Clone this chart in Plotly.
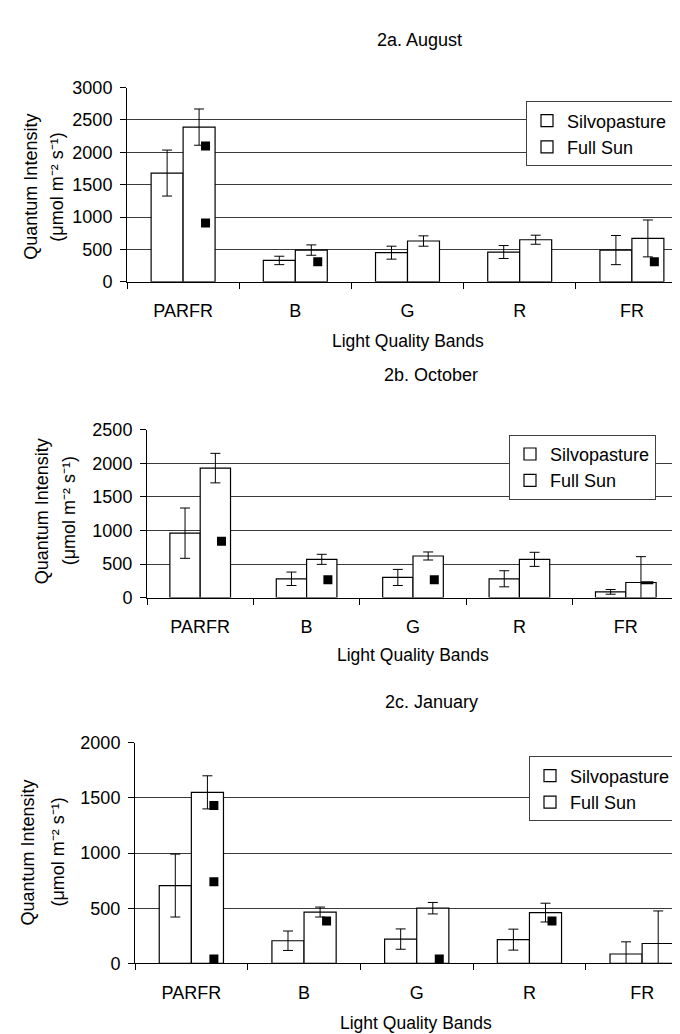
import numpy as np
import plotly.graph_objects as go

# ---------------- data ----------------
categories = ["PARFR", "B", "G", "R", "FR"]

# 2a. August
a_silvo = [1680, 330, 450, 460, 490]
a_silvo_err = [355, 65, 100, 100, 225]
a_full = [2390, 490, 630, 650, 670]
a_full_err = [280, 80, 80, 70, 285]
a_mark_cat = ["PARFR", "PARFR", "B", "FR"]
a_mark_val = [2100, 910, 310, 310]

# 2b. October
b_silvo = [960, 280, 300, 280, 85]
b_silvo_err = [375, 100, 120, 120, 35]
b_full = [1930, 570, 620, 570, 225]
b_full_err = [220, 75, 60, 105, 385]
b_mark_cat = ["PARFR", "B", "G"]
b_mark_val = [840, 265, 265]
b_dash_cat = ["FR"]
b_dash_val = [220]

# 2c. January
c_silvo = [705, 205, 220, 215, 85]
c_silvo_err = [285, 88, 92, 95, 110]
c_full = [1550, 465, 500, 460, 180]
c_full_err = [150, 45, 52, 85, 295]
c_mark_cat = ["PARFR", "PARFR", "PARFR", "B", "G", "R"]
c_mark_val = [1430, 740, 40, 385, 40, 385]

titles = ["2a. August", "2b. October", "2c. January"]
x_title = "Light Quality Bands"
y_title1 = "Quantum Intensity"
y_title2 = "(μmol m⁻² s⁻¹)"
y_max = [3000, 2500, 2000]

# ---------------- layout helpers ----------------
W, H = 680, 1034
FONT = "Liberation Sans, Arial, sans-serif"
FS = 18
BAR_W = 0.285
MARK_SHIFT = 0.2

def px(x):
    return x / W

def py(y):
    return 1 - y / H

idx = np.arange(len(categories))
cat_index = {c: i for i, c in enumerate(categories)}

# panel geometry in pixels
panels = [
    dict(x0=119, x1=680, yt=71, yb=269, xend=4.5),
    dict(x0=139, x1=671, yt=420, yb=591, xend=4.5),
    dict(x0=127, x1=680, yt=739, yb=964, xend=4.407),
]

series = [
    (a_silvo, a_silvo_err, a_full, a_full_err, a_mark_cat, a_mark_val),
    (b_silvo, b_silvo_err, b_full, b_full_err, b_mark_cat, b_mark_val),
    (c_silvo, c_silvo_err, c_full, c_full_err, c_mark_cat, c_mark_val),
]

fig = go.Figure()
legend_names = ["legend", "legend2", "legend3"]

for p, (sv, sve, fv, fve, mc, mv) in enumerate(series):
    xa = "x" if p == 0 else f"x{p+1}"
    ya = "y" if p == 0 else f"y{p+1}"
    err_style = dict(type="data", symmetric=True, color="black", thickness=1, width=5)
    fig.add_trace(go.Bar(
        x=idx, y=sv, offset=-BAR_W, width=BAR_W, name="Silvopasture",
        marker=dict(color="white", line=dict(color="black", width=1.2)),
        error_y=dict(array=sve, **err_style),
        xaxis=xa, yaxis=ya, legend=legend_names[p]))
    fig.add_trace(go.Bar(
        x=idx, y=fv, offset=0, width=BAR_W, name="Full Sun",
        marker=dict(color="white", line=dict(color="black", width=1.2)),
        error_y=dict(array=fve, **err_style),
        xaxis=xa, yaxis=ya, legend=legend_names[p]))
    fig.add_trace(go.Scatter(
        x=[cat_index[c] + MARK_SHIFT for c in mc], y=mv, mode="markers",
        marker=dict(symbol="square", size=9, color="black"),
        showlegend=False, xaxis=xa, yaxis=ya, hoverinfo="skip"))
    if p == 1:
        fig.add_trace(go.Scatter(
            x=[cat_index[c] + MARK_SHIFT for c in b_dash_cat], y=b_dash_val,
            mode="markers",
            marker=dict(symbol="line-ew", size=9, line=dict(color="black", width=3)),
            showlegend=False, xaxis=xa, yaxis=ya, hoverinfo="skip"))

layout = dict(
    width=W, height=H, autosize=False,
    margin=dict(l=0, r=0, t=0, b=0),
    paper_bgcolor="white", plot_bgcolor="white",
    font=dict(family=FONT, size=FS, color="black"),
    barmode="overlay",
    annotations=[],
)

legend_pos = [(518, 85), (501, 425), (521, 753)]
title_pos = [(412, 22), (423, 364), (423, 697)]
xtitle_pos = [(400, 329), (405, 650), (408, 1025)]
ytitle_pos = [((23, 49), 172), ((34, 61), 503), ((20, 50), 851)]

for p, g in enumerate(panels):
    sfx = "" if p == 0 else str(p + 1)
    layout[f"xaxis{sfx}"] = dict(
        domain=[px(g["x0"]), px(g["x1"])],
        range=[-0.5, g["xend"]],
        anchor=f"y{sfx}",
        tickmode="array", tickvals=idx, ticktext=categories,
        ticks="", showgrid=False, zeroline=False,
        showline=True, linecolor="black", linewidth=1,
        ticklabelstandoff=13,
        tickfont=dict(size=FS),
        minor=dict(tickmode="array", tickvals=list(np.arange(-0.5, 5.0, 1.0)),
                   ticks="outside", ticklen=6, tickcolor="black", tickwidth=1,
                   showgrid=False),
        fixedrange=True,
    )
    layout[f"yaxis{sfx}"] = dict(
        domain=[py(g["yb"]), py(g["yt"])],
        range=[0, y_max[p]],
        anchor=f"x{sfx}",
        dtick=500, tick0=0,
        ticks="outside", ticklen=6, tickcolor="black",
        showline=True, linecolor="black", linewidth=1,
        mirror=(p == 1),
        showgrid=True, gridcolor="#3a3a3a", gridwidth=1,
        zeroline=False,
        ticklabelstandoff=4,
        tickfont=dict(size=FS),
        fixedrange=True,
    )
    lx, ly = legend_pos[p]
    layout[legend_names[p]] = dict(
        x=px(lx), y=py(ly), xanchor="left", yanchor="top",
        bgcolor="white", bordercolor="#404040", borderwidth=1,
        font=dict(size=FS, family=FONT, color="black"),
        itemwidth=30, tracegroupgap=0,
    )
    tx, ty = title_pos[p]
    layout["annotations"].append(dict(
        text=titles[p], x=px(tx), y=py(ty), xref="paper", yref="paper",
        xanchor="center", yanchor="middle", showarrow=False,
        font=dict(size=FS, family=FONT)))
    xx, xy = xtitle_pos[p]
    layout["annotations"].append(dict(
        text=x_title, x=px(xx), y=py(xy), xref="paper", yref="paper",
        xanchor="center", yanchor="middle", showarrow=False,
        font=dict(size=17.5, family=FONT)))
    (yx1, yx2), yy = ytitle_pos[p]
    for txt, xpos in ((y_title1, yx1), (y_title2, yx2)):
        layout["annotations"].append(dict(
            text=txt, x=px(xpos), y=py(yy), xref="paper", yref="paper",
            xanchor="center", yanchor="middle", textangle=-90, showarrow=False,
            font=dict(size=FS, family=FONT)))

fig.update_layout(**layout)
fig.write_html("out.html")
